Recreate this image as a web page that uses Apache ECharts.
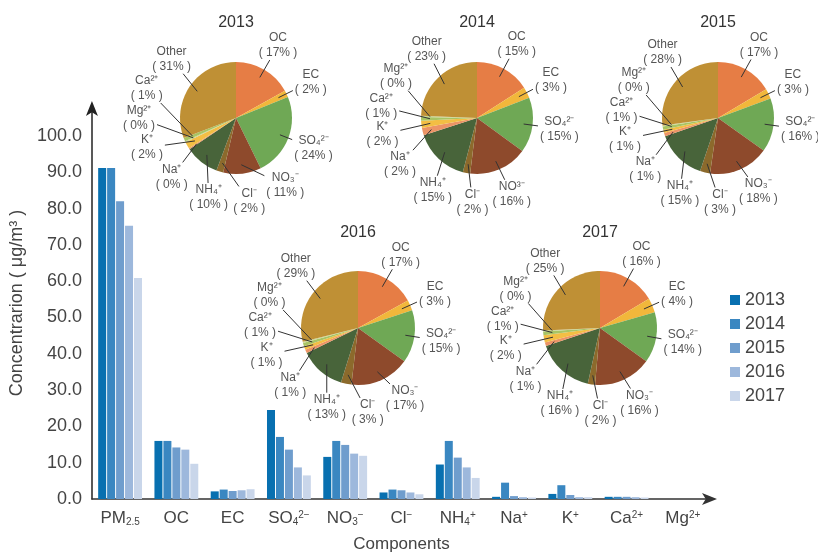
<!DOCTYPE html>
<html>
<head>
<meta charset="utf-8">
<script src="https://cdn.jsdelivr.net/npm/echarts@6/dist/echarts.min.js"></script>
<style>
  html, body { margin: 0; padding: 0; background: #fff; }
  #main { width: 818px; height: 558px; }
</style>
</head>
<body>
<div id="main"></div>
<script>
// ---- data ----
const categories = ['PM{s|2.5}', 'OC', 'EC', 'SO{s|4}{p|2−}', 'NO{s|3}{p|−}', 'Cl{p|−}', 'NH{s|4}{p|+}', 'Na{p|+}', 'K{p|+}', 'Ca{p|2+}', 'Mg{p|2+}'];
const years = ['2013', '2014', '2015', '2016', '2017'];

// concentrations (µg/m3) per component, one array per year
const conc2013 = [91.2, 16.0, 2.1, 24.5, 11.6, 1.8, 9.5, 0.6, 1.4, 0.6, 0];
const conc2014 = [91.2, 16.0, 2.6, 17.1, 16.0, 2.6, 16.0, 4.5, 3.8, 0.6, 0];
const conc2015 = [82.0, 14.2, 2.2, 13.6, 14.9, 2.4, 11.4, 0.8, 1.1, 0.6, 0];
const conc2016 = [75.3, 13.6, 2.4, 8.7, 12.5, 1.8, 8.7, 0.5, 0.5, 0.5, 0];
const conc2017 = [60.9, 9.7, 2.7, 6.5, 11.9, 1.3, 5.8, 0.4, 0.5, 0.4, 0];

// pie shares (%)
const keys2013 = ['OC', 'EC', 'SO4', 'NO3', 'Cl', 'NH4', 'Na', 'K', 'Mg', 'Ca', 'Other'];
const keysLater = ['OC', 'EC', 'SO4', 'NO3', 'Cl', 'NH4', 'Na', 'K', 'Ca', 'Mg', 'Other'];
const labels2013 = ['OC', 'EC', 'SO₄²⁻', 'NO₃⁻', 'Cl⁻', 'NH₄⁺', 'Na⁺', 'K⁺', 'Mg²⁺', 'Ca²⁺', 'Other'];
const labels2014 = ['OC', 'EC', 'SO₄²⁻', 'NO³⁻', 'Cl⁻', 'NH₄⁺', 'Na⁺', 'K⁺', 'Ca²⁺', 'Mg²⁺', 'Other'];
const labelsLater = ['OC', 'EC', 'SO₄²⁻', 'NO₃⁻', 'Cl⁻', 'NH₄⁺', 'Na⁺', 'K⁺', 'Ca²⁺', 'Mg²⁺', 'Other'];
const share2013 = [17, 2, 24, 11, 2, 10, 0.3, 2, 0.3, 1, 31];
const share2014 = [15, 3, 15, 16, 2, 15, 2, 2, 1, 0.3, 23];
const share2015 = [17, 3, 16, 18, 3, 15, 1, 1, 1, 0.3, 28];
const share2016 = [17, 3, 15, 17, 3, 13, 1, 1, 1, 0.3, 29];
const share2017 = [16, 4, 14, 16, 2, 16, 1, 2, 1, 0.3, 25];

// ---- styles ----
const FONT = 'Liberation Sans';
const barColors = ['#0870b0', '#3a87c1', '#6f9dcd', '#9db8dc', '#c9d6ea'];
const sliceColors = {
    OC: '#e67d45', EC: '#f1b73b', SO4: '#6fa855', NO3: '#8e4a2c', Cl: '#8c6a2c',
    NH4: '#48643a', Na: '#ec9466', K: '#f3be44', Ca: '#a8c464', Mg: '#cbd690', Other: '#bf9035'
};

const concByYear = [conc2013, conc2014, conc2015, conc2016, conc2017];
const pies = [
    { year: '2013', keys: keys2013, labels: labels2013, shares: share2013, center: [236, 118], r: 56 },
    { year: '2014', keys: keysLater, labels: labels2014, shares: share2014, center: [477, 118], r: 56 },
    { year: '2015', keys: keysLater, labels: labelsLater, shares: share2015, center: [718, 118], r: 56 },
    { year: '2016', keys: keysLater, labels: labelsLater, shares: share2016, center: [358, 328], r: 57 },
    { year: '2017', keys: keysLater, labels: labelsLater, shares: share2017, center: [600, 328], r: 57 }
];

// mid angle of every slice, clockwise from 12 o'clock, in degrees
function midAngles(shares) {
    const total = shares.reduce((a, b) => a + b, 0);
    let acc = 0;
    return shares.map(v => {
        const m = (acc + v / 2) / total * 360;
        acc += v;
        return m;
    });
}

// push label angles apart; labels above/below the pie sit side by side and need more room
function spreadAngles(mids) {
    const a = mids.slice();
    const n = a.length;
    for (let it = 0; it < 600; it++) {
        for (let i = 0; i < n; i++) {
            const j = (i + 1) % n;
            const aj = j === 0 ? a[j] + 360 : a[j];
            const gap = aj - a[i];
            const mean = (aj + a[i]) / 2 * Math.PI / 180;
            const need = 19 + 9 * Math.abs(Math.cos(mean));
            if (gap < need) {
                const d = (need - gap) / 2;
                a[i] -= d;
                a[j] += d;
            }
        }
    }
    return a;
}

const chart = echarts.init(document.getElementById('main'));

const barSeries = years.map((y, i) => ({
    name: y,
    type: 'bar',
    data: concByYear[i],
    barWidth: 8,
    barGap: '12%',
    itemStyle: { color: barColors[i] },
    z: 1
}));

const pieSeries = [];
pies.forEach(p => {
    const mids = midAngles(p.shares);
    const spots = spreadAngles(mids);
    const [cx, cy] = p.center;
    // coloured slices
    pieSeries.push({
        type: 'pie',
        center: p.center,
        radius: p.r,
        startAngle: 90,
        silent: true,
        z: 3,
        label: { show: false },
        labelLine: { show: false },
        data: p.shares.map((v, i) => ({ name: p.labels[i], value: v, itemStyle: { color: sliceColors[p.keys[i]] } }))
    });
    // transparent copy on top, carries the labels and leader lines
    pieSeries.push({
        type: 'pie',
        center: p.center,
        radius: p.r,
        startAngle: 90,
        silent: true,
        avoidLabelOverlap: false,
        z: 4,
        itemStyle: { color: 'rgba(0,0,0,0)' },
        label: {
            show: true,
            overflow: 'none',
            formatter: (d) => '{n|' + d.name + '}\n{v|( ' + Math.round(d.value) + '% )}',
            rich: {
                n: { fontFamily: FONT, fontSize: 12, color: '#555', align: 'center', lineHeight: 15 },
                v: { fontFamily: FONT, fontSize: 12, color: '#555', align: 'center', lineHeight: 15 }
            }
        },
        labelLine: { show: true, length: 10, length2: 4, lineStyle: { color: '#333', width: 1 } },
        labelLayout: (params) => {
            const i = params.dataIndex;
            const th = spots[i] * Math.PI / 180;
            const left = Math.max(0, -Math.sin(th));
            const x = cx + (p.r + 27 + 14 * left * left) * Math.sin(th);
            const y = cy - (p.r + 28) * Math.cos(th);
            const m = mids[i] * Math.PI / 180;
            const sx = cx + p.r * 0.84 * Math.sin(m);
            const sy = cy - p.r * 0.84 * Math.cos(m);
            const hw = params.labelRect.width / 2 + 2;
            const hh = params.labelRect.height / 2 + 1;
            const dx = sx - x, dy = sy - y;
            const t = Math.min(dx ? hw / Math.abs(dx) : Infinity, dy ? hh / Math.abs(dy) : Infinity);
            return {
                x: x,
                y: y,
                align: 'center',
                verticalAlign: 'middle',
                labelLinePoints: [[sx, sy], [x + dx * t, y + dy * t]]
            };
        },
        data: p.shares.map((v, i) => ({ name: p.labels[i], value: v }))
    });
});

const option = {
    animation: false,
    backgroundColor: '#fff',
    title: pies.map(p => ({
        text: p.year,
        left: p.center[0],
        top: p.center[1] - 103,
        textAlign: 'center',
        padding: 0,
        textStyle: { fontFamily: FONT, fontSize: 16, fontWeight: 'normal', color: '#333' }
    })),
    legend: {
        data: years,
        orient: 'vertical',
        left: 725,
        top: 286,
        itemWidth: 10,
        itemHeight: 10,
        itemGap: 6,
        icon: 'rect',
        textStyle: { fontFamily: FONT, fontSize: 18, color: '#444' }
    },
    grid: { left: 83, right: 107, top: 107, bottom: 55, containLabel: false },
    xAxis: {
        type: 'category',
        data: categories,
        name: 'Components',
        nameLocation: 'middle',
        nameGap: 37,
        nameTextStyle: { fontFamily: FONT, fontSize: 17, color: '#444' },
        axisTick: { show: false },
        axisLine: {
            show: true,
            symbol: ['none', 'arrow'],
            symbolSize: [9, 15],
            symbolOffset: [0, 6],
            lineStyle: { color: '#333', width: 1.5 }
        },
        axisLabel: {
            interval: 0,
            margin: 11,
            fontFamily: FONT,
            fontSize: 17,
            color: '#444',
            rich: {
                s: { fontFamily: FONT, fontSize: 10, color: '#444', verticalAlign: 'bottom' },
                p: { fontFamily: FONT, fontSize: 10, color: '#444', verticalAlign: 'top' }
            }
        },
        splitLine: { show: false }
    },
    yAxis: {
        type: 'value',
        min: 0,
        max: 108,
        interval: 10,
        name: 'Concentrarion ( μg/m³ )',
        nameLocation: 'middle',
        nameGap: 56,
        nameRotate: 90,
        nameTextStyle: { fontFamily: FONT, fontSize: 18, color: '#444' },
        axisLine: {
            show: true,
            symbol: ['none', 'arrow'],
            symbolSize: [9, 15],
            symbolOffset: [0, 6],
            lineStyle: { color: '#222', width: 1.5 }
        },
        axisTick: { show: false },
        axisLabel: {
            margin: 10,
            fontFamily: FONT,
            fontSize: 18,
            color: '#444',
            showMaxLabel: false,
            formatter: (v) => (v <= 100 ? v.toFixed(1) : '')
        },
        splitLine: { show: false }
    },
    series: barSeries.concat(pieSeries)
};

chart.setOption(option);
</script>
</body>
</html>
